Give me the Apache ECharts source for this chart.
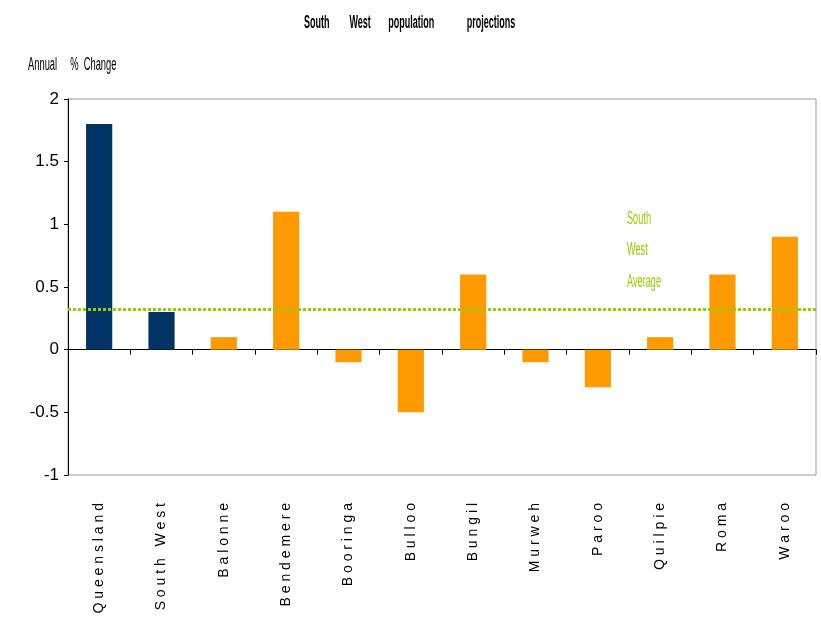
<!DOCTYPE html>
<html>
<head>
<meta charset="utf-8">
<script src="https://cdn.jsdelivr.net/npm/echarts@6/dist/echarts.min.js"></script>
<style>
  html, body { margin: 0; padding: 0; background: #fff; }
  #chart { width: 821px; height: 631px; }
</style>
</head>
<body>
<div id="chart"></div>
<script>
const categories = ['Queensland', 'South West', 'Balonne', 'Bendemere', 'Booringa', 'Bulloo',
  'Bungil', 'Murweh', 'Paroo', 'Quilpie', 'Roma', 'Waroo']
const changeValues = [1.8, 0.3, 0.1, 1.1, -0.1, -0.5, 0.6, -0.1, -0.3, 0.1, 0.6, 0.9]
const southWestAverage = 0.32
const yTicks = [-1, -0.5, 0, 0.5, 1, 1.5, 2]

// the original uses a very condensed face, so the free texts are squeezed horizontally
const font = '"Liberation Sans", Arial, sans-serif'

const chart = echarts.init(document.getElementById('chart'))
chart.setOption({
  animation: false,
  graphic: [
    {
      type: 'text', x: 304, y: 14, scaleX: 0.5,
      style: {
        text: 'South        West       population             projections',
        fontFamily: font, fontSize: 18, fontWeight: 'bold', fill: '#000'
      }
    },
    {
      type: 'text', x: 28, y: 56, scaleX: 0.52,
      style: { text: 'Annual     %  Change', fontFamily: font, fontSize: 18, fill: '#000' }
    },
    {
      type: 'text', x: 627, y: 203, scaleX: 0.51,
      style: {
        text: 'South\nWest\nAverage', lineHeight: 31.5,
        fontFamily: font, fontSize: 18, fill: '#99CC00'
      }
    }
  ],
  grid: {
    left: 68, right: 5, top: 99, bottom: 156,
    show: true, borderColor: '#999', borderWidth: 1
  },
  xAxis: [
    {
      type: 'category',
      data: categories,
      position: 'bottom',
      axisLine: { show: false, onZero: false },
      axisTick: { show: false },
      axisLabel: {
        rotate: 90,
        margin: 28,
        interval: 0,
        fontFamily: font,
        fontSize: 14,
        color: '#000',
        formatter: v => v.split('').join(' ')
      }
    },
    {
      type: 'category',
      data: categories,
      position: 'bottom',
      axisLine: { onZero: true, lineStyle: { color: '#000', width: 1 } },
      axisTick: { show: true, interval: 0, length: 5, lineStyle: { color: '#000' } },
      axisLabel: { show: false }
    }
  ],
  yAxis: {
    type: 'value',
    min: -1,
    max: 2,
    interval: 0.5,
    axisLine: { show: true, lineStyle: { color: '#000' } },
    axisTick: { show: true, length: 4, lineStyle: { color: '#000' } },
    splitLine: { show: false },
    axisLabel: {
      margin: 9,
      fontFamily: font,
      fontSize: 17,
      color: '#000',
      formatter: v => yTicks.includes(v) ? String(v) : ''
    }
  },
  series: [
    {
      type: 'bar',
      data: changeValues,
      barWidth: '42%',
      itemStyle: {
        color: p => p.dataIndex < 2 ? '#003366' : '#FF9900'
      },
      markLine: {
        silent: true,
        symbol: 'none',
        label: { show: false },
        lineStyle: { color: '#99CC00', type: [3, 2], width: 3 },
        data: [{ yAxis: southWestAverage }]
      }
    }
  ]
})
</script>
</body>
</html>
